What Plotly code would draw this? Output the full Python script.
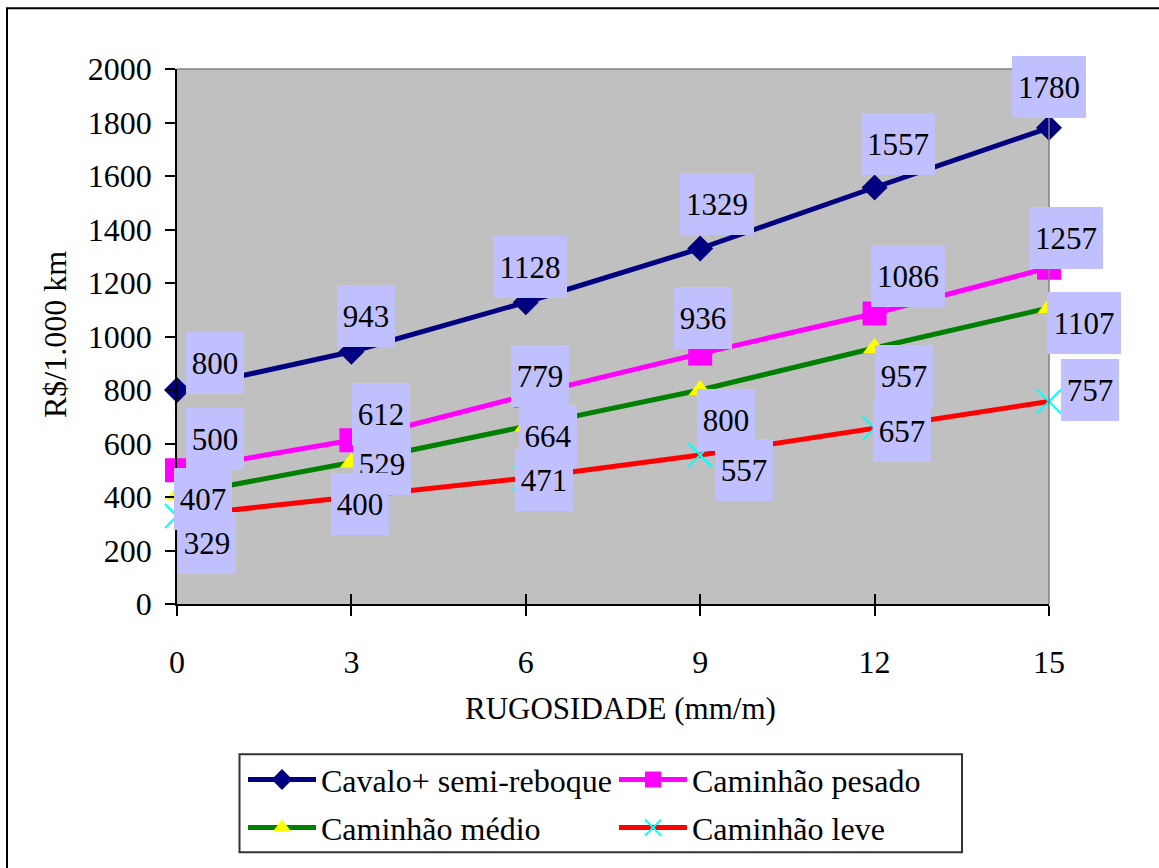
import plotly.graph_objects as go

# ---- data ----
rugosidade = [0, 3, 6, 9, 12, 15]
x_ticks = [0, 3, 6, 9, 12, 15]
y_ticks = [0, 200, 400, 600, 800, 1000, 1200, 1400, 1600, 1800, 2000]
series_names = ["Cavalo+ semi-reboque", "Caminhão pesado", "Caminhão médio", "Caminhão leve"]
cavalo = [800, 943, 1128, 1329, 1557, 1780]
pesado = [500, 612, 779, 936, 1086, 1257]
medio = [407, 529, 664, 800, 957, 1107]
leve = [329, 400, 471, 557, 657, 757]

# ---- styles (label offsets in pixels, dx right, dy down) ----
offsets = [
    [(38, -27), (15, -36), (4, -35), (17, -44), (23, -44), (0, -41)],
    [(38, -31), (30, -26), (14, -20), (3, -36), (33, -38), (17, -30)],
    [(26, 4), (31, 2), (22, 10), (26, 30), (29, 28), (35, 15)],
    [(30, 27), (9, 7), (18, 2), (44, 15), (27, 3), (41, -12)],
]
line_colors = ["#000080", "#FF00FF", "#008000", "#FF0000"]
marker_styles = [
    dict(symbol="diamond", size=20, color="#000080"),
    dict(symbol="square", size=24, color="#FF00FF"),
    dict(symbol="triangle-up", size=20, color="#FFFF00"),
    dict(symbol="x-thin", size=24, color="#00FFFF", line=dict(color="#00FFFF", width=2)),
]
legend_ids = ["legend", "legend", "legend2", "legend2"]
FONT = "Times New Roman, Liberation Serif, serif"

W, H = 1159, 868
ML, MR, MT, MB = 177, 110, 69, 254
PW = W - ML - MR
PH = H - MT - MB


def px_x(px):
    return (px - ML) / PW


def px_y(py):
    return (H - MB - py) / PH


fig = go.Figure()
all_vals = [cavalo, pesado, medio, leve]
for name, vals, lc, ms, lg in zip(series_names, all_vals, line_colors, marker_styles, legend_ids):
    fig.add_trace(go.Scatter(
        x=rugosidade, y=vals, name=name, mode="lines+markers",
        line=dict(color=lc, width=5), marker=ms, legend=lg, cliponaxis=False,
    ))

# invisible trace for the secondary x axis (inside ticks)
fig.add_trace(go.Scatter(x=[0], y=[0], xaxis="x2", mode="markers",
                         marker=dict(opacity=0), showlegend=False, hoverinfo="skip"))

annotations = []
for vals, offs in zip(all_vals, offsets):
    for xv, yv, (dx, dy) in zip(rugosidade, vals, offs):
        txt = str(yv)
        annotations.append(dict(
            x=xv, y=yv, xref="x", yref="y", text=txt, showarrow=False,
            xshift=dx, yshift=-dy, xanchor="center", yanchor="middle",
            width=58 if len(txt) == 3 else 74, height=62,
            bgcolor="#C0C0FF", borderpad=0, borderwidth=0,
            font=dict(family=FONT, size=31, color="black"),
        ))

# axis titles
annotations.append(dict(text="RUGOSIDADE (mm/m)", x=px_x(620), y=px_y(720), xref="paper", yref="paper",
                        showarrow=False, xanchor="center", yanchor="middle",
                        font=dict(family=FONT, size=31, color="black")))
annotations.append(dict(text="R$/1.000 km", x=px_x(55), y=px_y(340), xref="paper", yref="paper",
                        showarrow=False, xanchor="center", yanchor="middle", textangle=-90,
                        font=dict(family=FONT, size=32, color="black")))

shapes = [
    # outer frame
    dict(type="rect", xref="paper", yref="paper", x0=px_x(7), x1=px_x(1180), y0=px_y(890), y1=px_y(7),
         line=dict(color="black", width=2)),
    # gray top / right plot border
    dict(type="line", xref="paper", yref="paper", x0=0, x1=1, y0=1, y1=1, line=dict(color="#808080", width=1.5)),
    dict(type="line", xref="paper", yref="paper", x0=1, x1=1, y0=0, y1=1, line=dict(color="#808080", width=1.5)),
    # legend box
    dict(type="rect", xref="paper", yref="paper", x0=px_x(239.5), x1=px_x(962), y0=px_y(867), y1=px_y(767),
         line=dict(color="#333333", width=2)),
]

legend_common = dict(
    orientation="h", xanchor="left", yanchor="middle", x=px_x(243),
    font=dict(family=FONT, size=32, color="black"),
    bgcolor="rgba(0,0,0,0)", borderwidth=0,
    entrywidth=288, entrywidthmode="pixels", itemwidth=68, traceorder="normal",
)

fig.update_layout(
    width=W, height=H, autosize=False,
    margin=dict(l=ML, r=MR, t=MT, b=MB, pad=0),
    paper_bgcolor="white", plot_bgcolor="#C0C0C0",
    font=dict(family=FONT, size=32, color="black"),
    xaxis=dict(range=[0, 15], tickvals=x_ticks, ticktext=[str(t) for t in x_ticks],
               ticks="outside", ticklen=10, tickwidth=1.5, tickcolor="black",
               showline=True, linecolor="black", linewidth=1.5, showgrid=False, zeroline=False,
               tickfont=dict(family=FONT, size=32), ticklabelstandoff=19, fixedrange=True),
    xaxis2=dict(range=[0, 15], overlaying="x", anchor="y", side="bottom", tickvals=x_ticks,
                ticks="inside", ticklen=10, tickwidth=1.5, tickcolor="black",
                showticklabels=False, showline=False, showgrid=False, zeroline=False),
    yaxis=dict(range=[0, 2000], tickvals=y_ticks, ticks="outside", ticklen=10, tickwidth=1.5,
               tickcolor="black", showline=True, linecolor="black", linewidth=1.5,
               showgrid=False, zeroline=False, tickfont=dict(family=FONT, size=32),
               ticklabelstandoff=7, fixedrange=True),
    legend=dict(legend_common, y=px_y(793)),
    legend2=dict(legend_common, y=px_y(842)),
    annotations=annotations,
    shapes=shapes,
    showlegend=True,
)

fig.write_html("out.html")
